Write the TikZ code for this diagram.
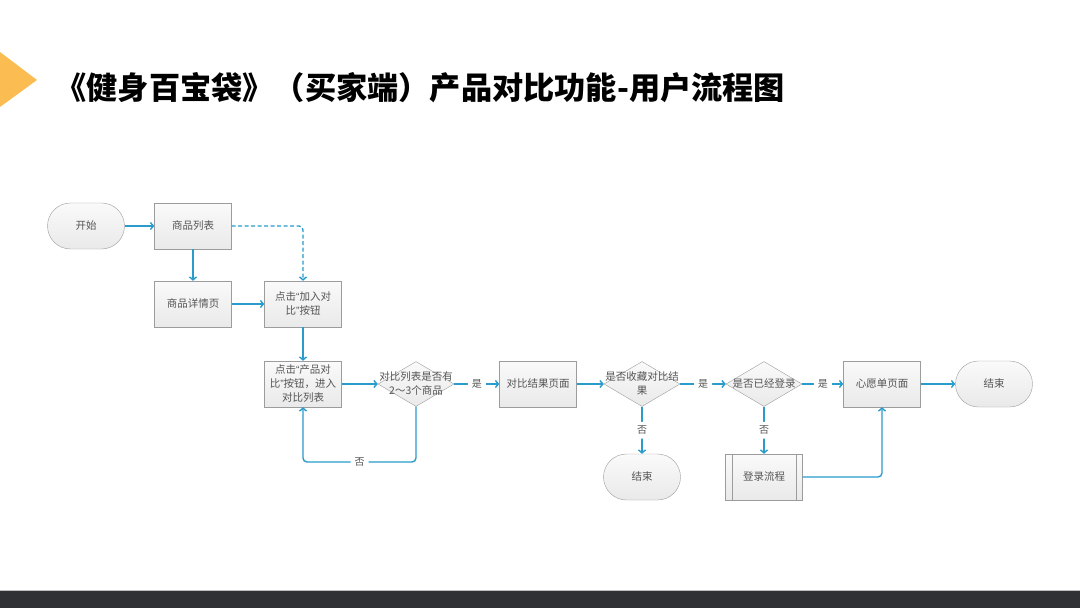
\documentclass[tikz,border=0pt]{standalone}
\usepackage{fontspec}
\setmainfont{Noto Sans CJK SC}
\newfontfamily\quotefont{Liberation Sans}
\usetikzlibrary{arrows.meta,shapes.geometric}
\definecolor{flowblue}{HTML}{2A9BCB}
\definecolor{boxedge}{HTML}{9C9C9C}
\definecolor{textgray}{HTML}{555555}
\definecolor{markyellow}{HTML}{FBBD52}
\definecolor{barcolor}{HTML}{2F3134}
\newcommand{\openq}{{\quotefont “}}
\newcommand{\closeq}{{\quotefont ”}}

\begin{document}
\begin{tikzpicture}[x=1pt,y=-1pt,
  box/.style={draw=boxedge, top color=gray!4, bottom color=gray!17, minimum width=77, minimum height=46,
    font=\fontsize{10.5}{14}\selectfont, text=textgray, align=center, inner sep=1pt},
  term/.style={box, rounded corners=23pt},
  decide/.style={diamond, draw=boxedge, top color=gray!4, bottom color=gray!17, minimum width=76, minimum height=45, inner sep=0pt},
  dtext/.style={font=\fontsize{10.5}{14}\selectfont, text=textgray, align=center, inner sep=0pt},
  flow/.style={draw=flowblue, line width=1.4pt, rounded corners=4pt, -{Straight Barb[length=3pt,width=7pt]}},
  lbl/.style={fill=white, font=\fontsize{10}{12}\selectfont, text=textgray, inner sep=4pt}]
\useasboundingbox (0,0) rectangle (1080,608);
% title
\fill[markyellow] (0,52) -- (37,80) -- (0,107) -- cycle;
\node[anchor=west, font=\fontsize{31.2}{36}\selectfont\bfseries] (title) at (52,88) {《健身百宝袋》（买家端）产品对比功能-用户流程图};
% footer
\fill[barcolor] (0,591) rectangle (1080,608);
\draw[gray!50] (0,590.5) -- (1080,590.5);

% nodes
\node[term] (start) at (86,226) {开始};
\node[box] (plist) at (193,226) {商品列表};
\node[box] (detail) at (193,304) {商品详情页};
\node[box] (addbtn) at (303,304) {点击\openq 加入对\\比\closeq 按钮};
\node[box] (cmpbtn) at (303,384) {点击\openq 产品对\\比\closeq 按钮，进入\\对比列表};
\node[decide, label={[dtext]center:{对比列表是否有\\2～3个商品}}] (chk) at (416,384) {};
\node[box] (result) at (538,384) {对比结果页面};
\node[decide, label={[dtext]center:{是否收藏对比结\\果}}] (fav) at (642,384) {};
\node[decide, label={[dtext]center:{是否已经登录}}] (logged) at (764,384) {};
\node[box] (wish) at (882,384) {心愿单页面};
\node[term] (endR) at (994,384) {结束};
\node[term] (endA) at (642,477) {结束};
\node[box] (loginflow) at (764,477) {登录流程};
\draw[boxedge] ([xshift=7pt]loginflow.north west) -- ([xshift=7pt]loginflow.south west);
\draw[boxedge] ([xshift=-7pt]loginflow.north east) -- ([xshift=-7pt]loginflow.south east);
\coordinate (loopL) at (303,462);

% connectors
\draw[flow] (start) -- (plist);
\draw[flow] (plist) -- (detail);
\draw[flow, dash pattern=on 4pt off 2.5pt] (plist.east) -| (addbtn.north);
\draw[flow] (detail) -- (addbtn);
\draw[flow] (addbtn) -- (cmpbtn);
\draw[flow] (cmpbtn) -- (chk);
\draw[flow] (chk.south) |- node[lbl, pos=0.75] {否} (loopL) -- (cmpbtn.south);
\draw[flow] (chk) -- node[lbl] {是} (result);
\draw[flow] (result) -- (fav);
\draw[flow] (fav) -- node[lbl] {是} (logged);
\draw[flow] (fav) -- node[lbl] {否} (endA);
\draw[flow] (logged) -- node[lbl] {是} (wish);
\draw[flow] (logged) -- node[lbl] {否} (loginflow);
\draw[flow] (loginflow.east) -| (wish.south);
\draw[flow] (wish) -- (endR);
\end{tikzpicture}
\end{document}
